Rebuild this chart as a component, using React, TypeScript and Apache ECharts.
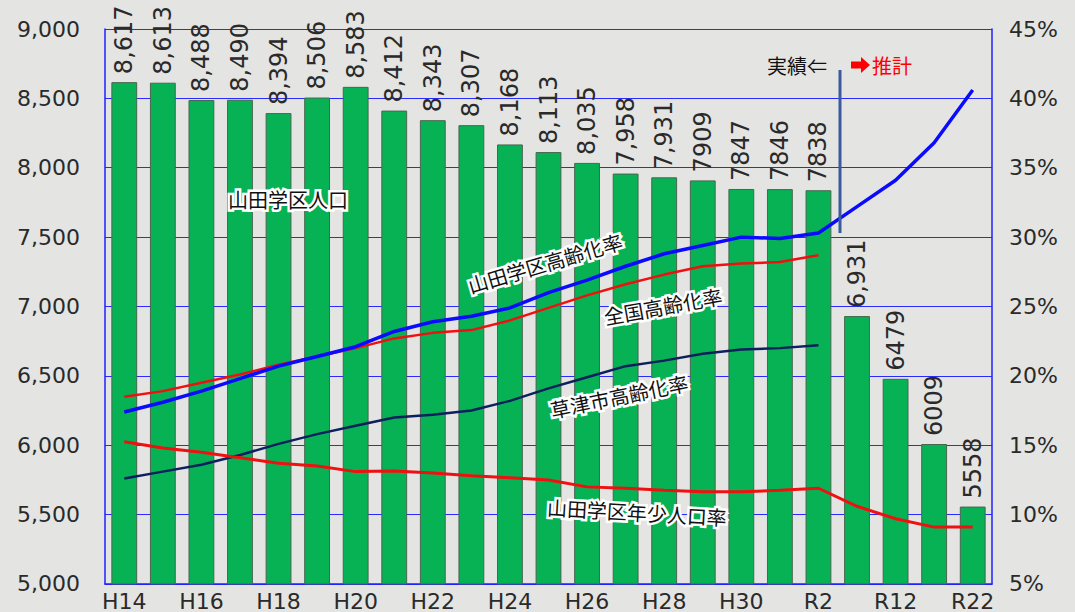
import React, { useEffect, useRef } from "react";
import * as echarts from "echarts";

const categories = ["H14","H15","H16","H17","H18","H19","H20","H21","H22","H23","H24","H25","H26","H27","H28","H29","H30","R1","R2","R7","R12","R17","R22"];
const population = [8617, 8613, 8488, 8490, 8394, 8506, 8583, 8412, 8343, 8307, 8168, 8113, 8035, 7958, 7931, 7909, 7847, 7846, 7838, 6931, 6479, 6009, 5558];
const populationLabels = ["8,617","8,613","8,488","8,490","8,394","8,506","8,583","8,412","8,343","8,307","8,168","8,113","8,035","7,958","7,931","7909","7847","7846","7838","6,931","6479","6009","5558"];
const yamadaAging = [17.4, 18.1, 18.9, 19.8, 20.7, 21.4, 22.1, 23.2, 23.9, 24.3, 24.9, 26.0, 26.9, 27.9, 28.8, 29.4, 30.0, 29.9, 30.3, 32.2, 34.1, 36.8, 40.6];
const nationalAging = [18.5, 18.9, 19.5, 20.1, 20.8, 21.4, 22.0, 22.7, 23.1, 23.3, 24.0, 24.9, 25.8, 26.6, 27.3, 27.9, 28.1, 28.2, 28.7, null, null, null, null];
const kusatsuAging = [12.6, 13.1, 13.6, 14.3, 15.1, 15.8, 16.4, 17.0, 17.2, 17.5, 18.2, 19.1, 19.9, 20.7, 21.1, 21.6, 21.9, 22.0, 22.2, null, null, null, null];
const youthRate = [15.25, 14.8, 14.5, 14.1, 13.7, 13.5, 13.1, 13.15, 13.0, 12.8, 12.65, 12.5, 12.0, 11.9, 11.75, 11.65, 11.65, 11.75, 11.9, 10.6, 9.7, 9.1, 9.1];

const FONT = "'DejaVu Sans', 'Noto Sans CJK JP', sans-serif";
const JP = "'Noto Sans CJK JP', sans-serif";

function annot(text: string, x: number, y: number, deg: number) {
  return {
    type: "text",
    x,
    y,
    rotation: (deg * Math.PI) / 180,
    z: 100,
    style: {
      text,
      x: 0,
      y: 0,
      fill: "#111",
      font: `20px ${JP}`,
      align: "center",
      verticalAlign: "middle",
      stroke: "#ffffff",
      lineWidth: 5,
    },
  };
}

export default function App() {
  const ref = useRef<HTMLDivElement>(null);
  useEffect(() => {
    const chart = echarts.init(ref.current!, null, { renderer: "svg" });
    chart.setOption({
      animation: false,
      backgroundColor: "transparent",
      grid: { left: 105, right: 83, top: 29, bottom: 28 },
      xAxis: {
        type: "category",
        data: categories,
        z: 1,
        axisLine: { lineStyle: { color: "#2020ff", width: 1.5 } },
        axisTick: { show: false },
        axisLabel: { interval: 1, color: "#2a2a2a", fontSize: 22, fontFamily: FONT, margin: 6 },
      },
      yAxis: [
        {
          type: "value",
          min: 5000,
          max: 9000,
          interval: 500,
          z: 1,
          axisLine: { show: true, lineStyle: { color: "#2020ff", width: 1.5 } },
          axisTick: { show: false },
          splitLine: { lineStyle: { color: "#2a2aff", width: 1.2 } },
          axisLabel: {
            color: "#2a2a2a",
            fontSize: 22,
            fontFamily: FONT,
            margin: 25,
            formatter: (v: number) => v.toLocaleString("en-US"),
          },
        },
        {
          type: "value",
          min: 5,
          max: 45,
          interval: 5,
          z: 1,
          position: "right",
          axisLine: { show: true, lineStyle: { color: "#2020ff", width: 1.5 } },
          axisTick: { show: false },
          splitLine: { show: false },
          axisLabel: { color: "#2a2a2a", fontSize: 22, fontFamily: FONT, margin: 17, formatter: "{value}%" },
        },
      ],
      series: [
        {
          name: "山田学区人口",
          type: "bar",
          data: population,
          barCategoryGap: "33%",
          itemStyle: { color: "#06b253", borderColor: "#4a6552", borderWidth: 1 },
          label: {
            show: true,
            position: "top",
            rotate: 90,
            align: "left",
            verticalAlign: "middle",
            distance: 8,
            color: "#2a2a2a",
            fontSize: 24,
            fontFamily: FONT,
            formatter: (p: any) => populationLabels[p.dataIndex],
          },
          z: 5,
        },
        {
          name: "山田学区高齢化率",
          type: "line",
          yAxisIndex: 1,
          data: yamadaAging,
          symbol: "none",
          lineStyle: { color: "#0a0aff", width: 3.5 },
          z: 8,
        },
        {
          name: "全国高齢化率",
          type: "line",
          yAxisIndex: 1,
          data: nationalAging,
          symbol: "none",
          lineStyle: { color: "#f01010", width: 2.5 },
          z: 7,
        },
        {
          name: "草津市高齢化率",
          type: "line",
          yAxisIndex: 1,
          data: kusatsuAging,
          symbol: "none",
          lineStyle: { color: "#0c1f5e", width: 2.5 },
          z: 7,
        },
        {
          name: "山田学区年少人口率",
          type: "line",
          yAxisIndex: 1,
          data: youthRate,
          symbol: "none",
          lineStyle: { color: "#f01010", width: 3 },
          z: 7,
        },
      ],
      graphic: [
        {
          type: "line",
          z: 90,
          shape: { x1: 840, y1: 70, x2: 840, y2: 233 },
          style: { stroke: "#3b5b9e", lineWidth: 3 },
        },
        annot("山田学区人口", 288, 199, 0),
        annot("山田学区高齢化率", 545, 263, 16.5),
        annot("全国高齢化率", 663, 306, 10.2),
        annot("草津市高齢化率", 619, 396, 11.6),
        annot("山田学区年少人口率", 637, 512, -3.3),
        {
          type: "text",
          z: 100,
          style: { text: "実績⇐", x: 827, y: 65, fill: "#111", font: `20px ${JP}`, align: "right", verticalAlign: "middle" },
        },
        {
          type: "polygon",
          z: 100,
          shape: {
            points: [
              [851, 61.5],
              [861, 61.5],
              [861, 57],
              [870, 65],
              [861, 73],
              [861, 68.5],
              [851, 68.5],
            ],
          },
          style: { fill: "#ff0000" },
        },
        {
          type: "text",
          z: 100,
          style: { text: "推計", x: 872, y: 65, fill: "#ff0000", font: `20px ${JP}`, align: "left", verticalAlign: "middle" },
        },
      ],
    });
    return () => chart.dispose();
  }, []);
  return (
    <div
      ref={ref}
      style={{
        position: "fixed",
        left: 0,
        top: 0,
        width: 1075,
        height: 612,
        background: "#e4e4e2",
      }}
    />
  );
}
